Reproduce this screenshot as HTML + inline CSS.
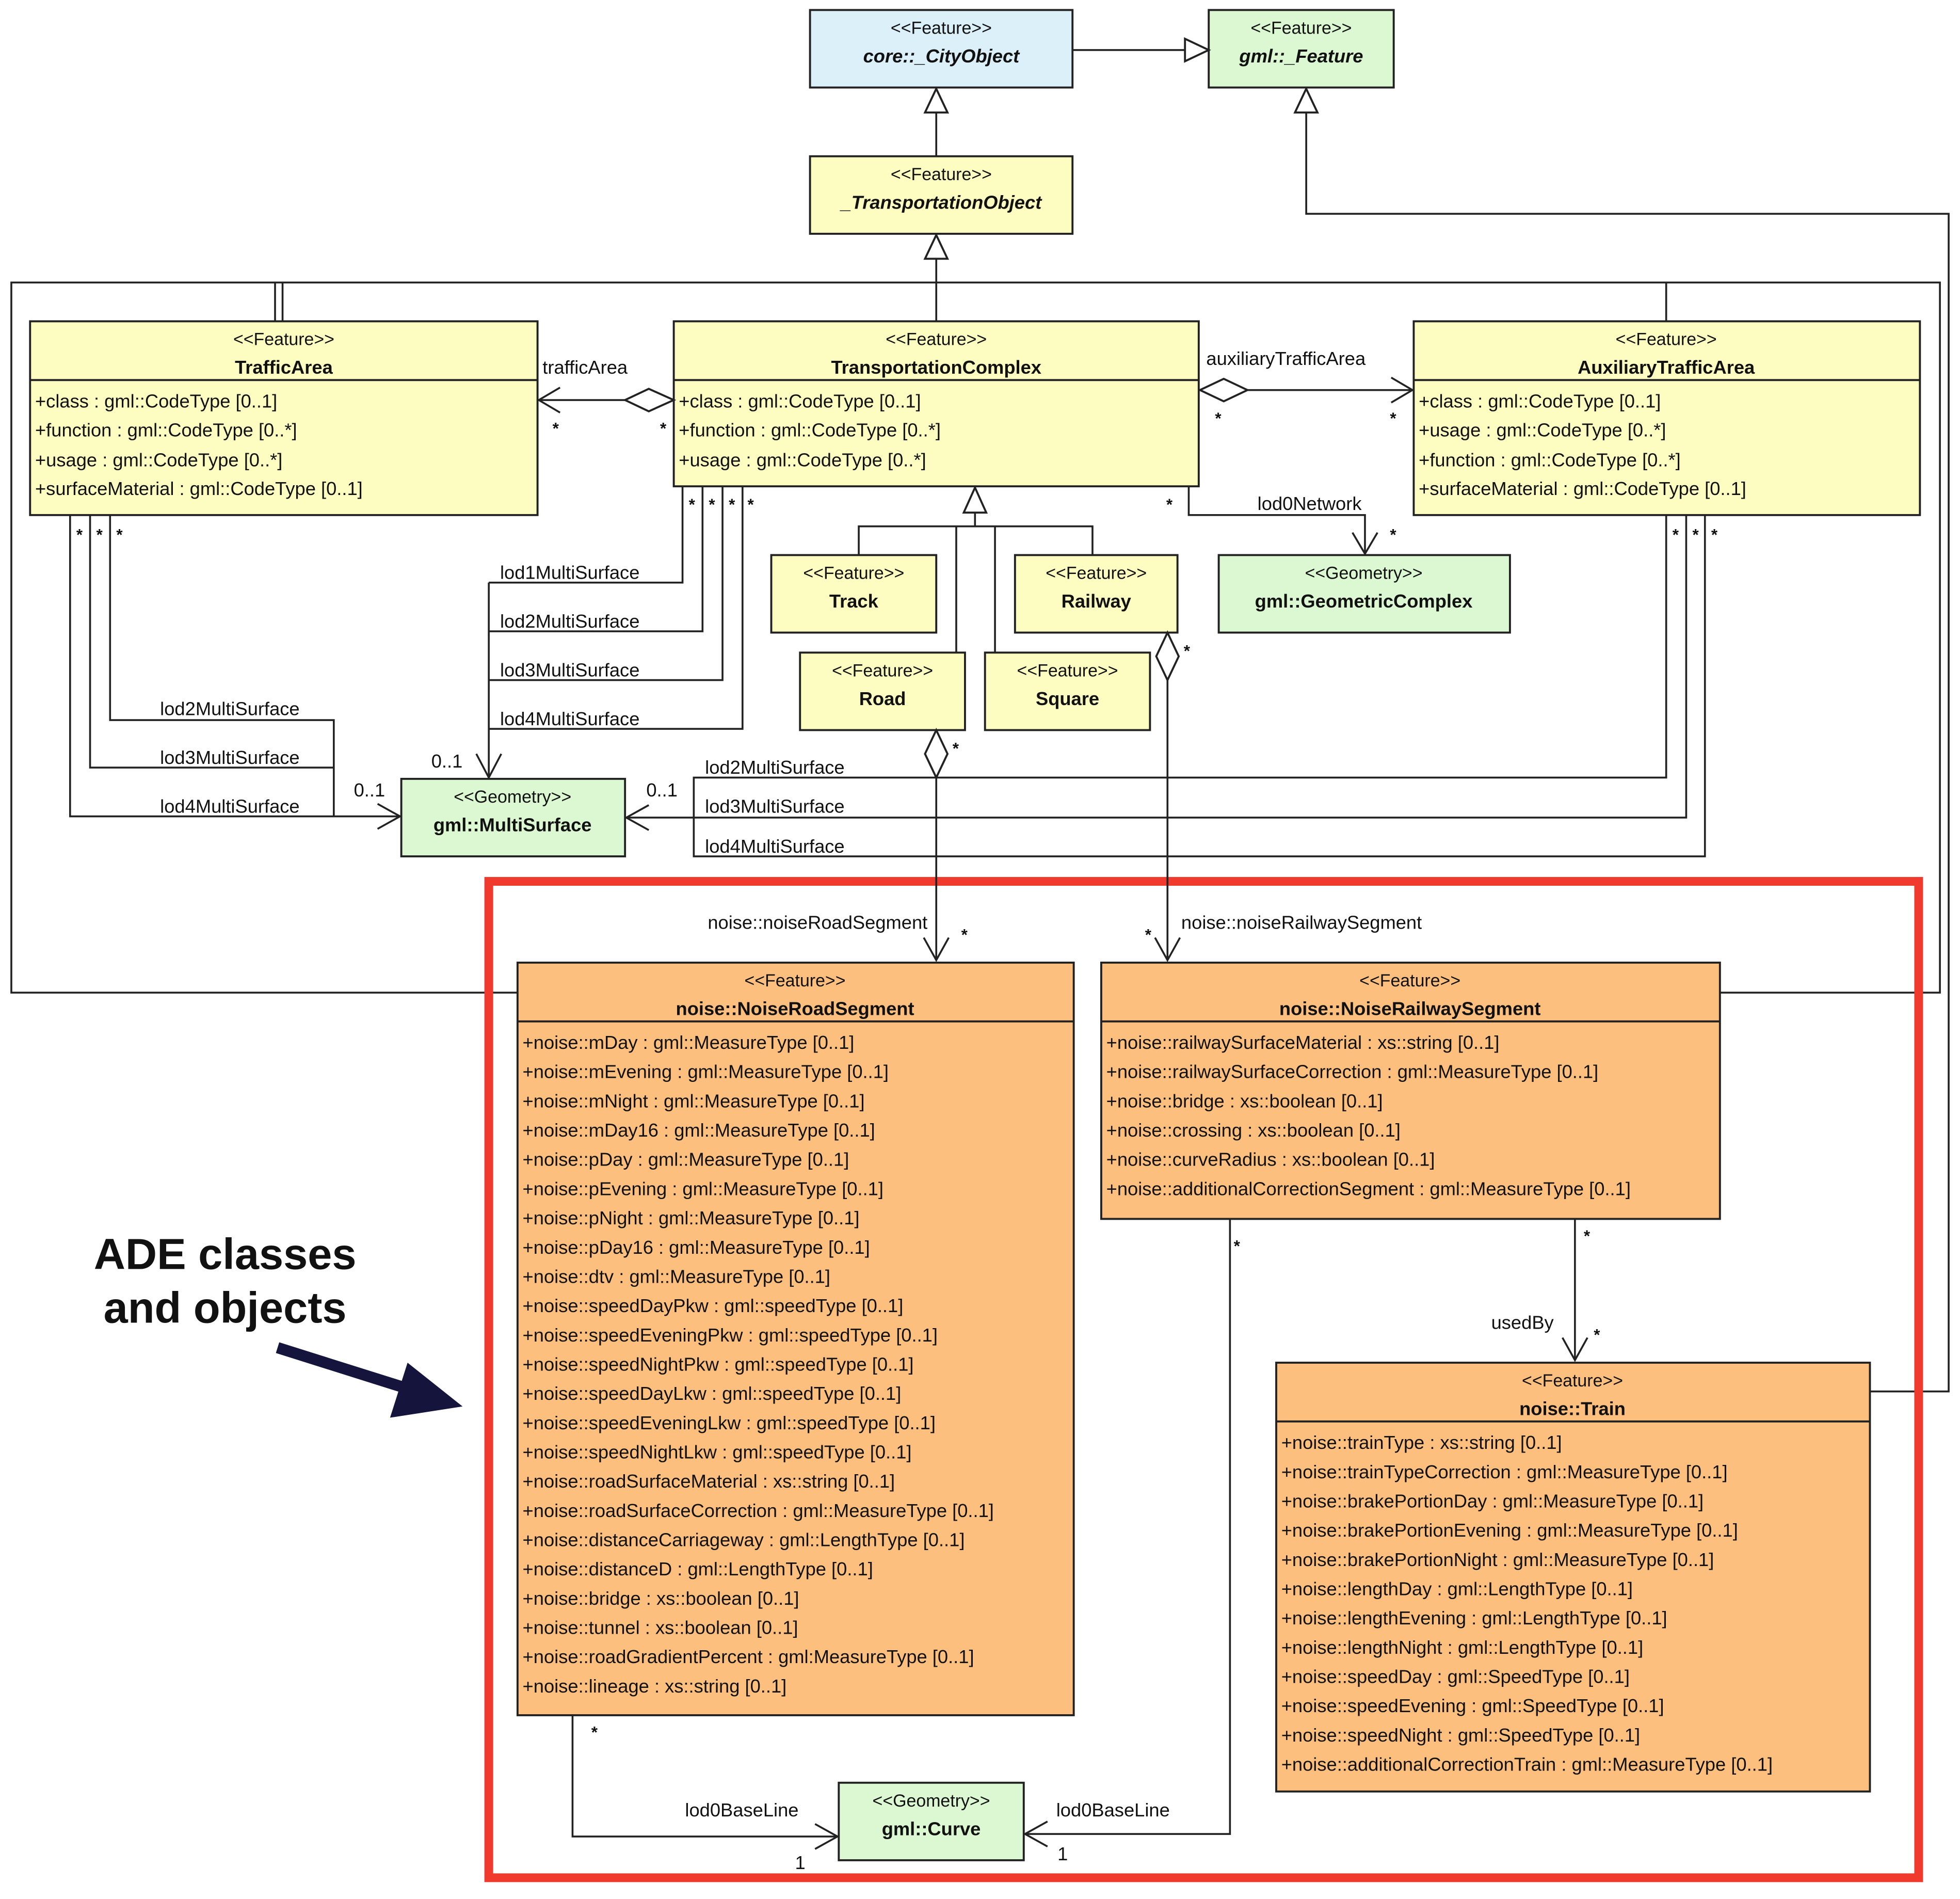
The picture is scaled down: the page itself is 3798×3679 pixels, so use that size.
<!DOCTYPE html>
<html><head><meta charset="utf-8">
<style>
html,body{margin:0;padding:0;background:#fff;}
svg{display:block;}
text{font-family:"Liberation Sans",sans-serif;fill:#111;}
.s{font-size:14px;}
.a{font-size:15px;}
.b{font-size:15px;font-weight:bold;}
.bi{font-size:15px;font-weight:bold;font-style:italic;}
.l{font-size:15px;}
.m{font-size:13px;font-weight:bold;}
.bx{stroke:#222;stroke-width:1.6;}
.ln{stroke:#222;stroke-width:1.5;fill:none;}
.tri{stroke:#222;stroke-width:1.6;fill:#fff;}
</style></head><body>
<svg width="3798" height="3679" viewBox="0 0 1568 1519" xmlns="http://www.w3.org/2000/svg">
<rect x="0" y="0" width="1568" height="1519" fill="#fff"/>

<!-- outer frame lines -->
<polyline class="ln" points="414,794 9,794 9,226 1552,226 1552,794 1376,794"/>
<polyline class="ln" points="1045,90 1045,171 1559,171 1559,1113 1496,1113"/>
<line class="ln" x1="220" y1="226" x2="220" y2="257"/>
<line class="ln" x1="226" y1="226" x2="226" y2="257"/>
<line class="ln" x1="1333" y1="226" x2="1333" y2="257"/>
<line class="ln" x1="749" y1="207" x2="749" y2="257"/>
<line class="ln" x1="749" y1="90" x2="749" y2="125"/>
<line class="ln" x1="858" y1="40" x2="948" y2="40"/>

<!-- red box -->
<rect x="391" y="705" width="1144" height="797" fill="none" stroke="#f03a2e" stroke-width="7"/>

<!-- boxes -->
<rect class="bx" x="648" y="8" width="210" height="62" fill="#dcf0fa"/>
<text class="s" x="753" y="27" text-anchor="middle">&lt;&lt;Feature&gt;&gt;</text>
<text class="bi" x="753" y="50" text-anchor="middle">core::_CityObject</text>

<rect class="bx" x="967" y="8" width="148" height="62" fill="#dcf8d2"/>
<text class="s" x="1041" y="27" text-anchor="middle">&lt;&lt;Feature&gt;&gt;</text>
<text class="bi" x="1041" y="50" text-anchor="middle">gml::_Feature</text>

<rect class="bx" x="648" y="125" width="210" height="62" fill="#fdfdc2"/>
<text class="s" x="753" y="144" text-anchor="middle">&lt;&lt;Feature&gt;&gt;</text>
<text class="bi" x="753" y="167" text-anchor="middle">_TransportationObject</text>

<!-- TrafficArea -->
<rect class="bx" x="24" y="257" width="406" height="155" fill="#fdfdc2"/>
<line class="bx" x1="24" y1="304" x2="430" y2="304"/>
<text class="s" x="227" y="276" text-anchor="middle">&lt;&lt;Feature&gt;&gt;</text>
<text class="b" x="227" y="299" text-anchor="middle">TrafficArea</text>
<text class="a" x="28" y="326">+class : gml::CodeType [0..1]</text>
<text class="a" x="28" y="349">+function : gml::CodeType [0..*]</text>
<text class="a" x="28" y="373">+usage : gml::CodeType [0..*]</text>
<text class="a" x="28" y="396">+surfaceMaterial : gml::CodeType [0..1]</text>

<!-- TransportationComplex -->
<rect class="bx" x="539" y="257" width="420" height="132" fill="#fdfdc2"/>
<line class="bx" x1="539" y1="304" x2="959" y2="304"/>
<text class="s" x="749" y="276" text-anchor="middle">&lt;&lt;Feature&gt;&gt;</text>
<text class="b" x="749" y="299" text-anchor="middle">TransportationComplex</text>
<text class="a" x="543" y="326">+class : gml::CodeType [0..1]</text>
<text class="a" x="543" y="349">+function : gml::CodeType [0..*]</text>
<text class="a" x="543" y="373">+usage : gml::CodeType [0..*]</text>

<!-- AuxiliaryTrafficArea -->
<rect class="bx" x="1131" y="257" width="405" height="155" fill="#fdfdc2"/>
<line class="bx" x1="1131" y1="304" x2="1536" y2="304"/>
<text class="s" x="1333" y="276" text-anchor="middle">&lt;&lt;Feature&gt;&gt;</text>
<text class="b" x="1333" y="299" text-anchor="middle">AuxiliaryTrafficArea</text>
<text class="a" x="1135" y="326">+class : gml::CodeType [0..1]</text>
<text class="a" x="1135" y="349">+usage : gml::CodeType [0..*]</text>
<text class="a" x="1135" y="373">+function : gml::CodeType [0..*]</text>
<text class="a" x="1135" y="396">+surfaceMaterial : gml::CodeType [0..1]</text>

<!-- Track, Railway, Road, Square -->
<rect class="bx" x="617" y="444" width="132" height="62" fill="#fdfdc2"/>
<text class="s" x="683" y="463" text-anchor="middle">&lt;&lt;Feature&gt;&gt;</text>
<text class="b" x="683" y="486" text-anchor="middle">Track</text>
<rect class="bx" x="812" y="444" width="130" height="62" fill="#fdfdc2"/>
<text class="s" x="877" y="463" text-anchor="middle">&lt;&lt;Feature&gt;&gt;</text>
<text class="b" x="877" y="486" text-anchor="middle">Railway</text>
<rect class="bx" x="640" y="522" width="132" height="62" fill="#fdfdc2"/>
<text class="s" x="706" y="541" text-anchor="middle">&lt;&lt;Feature&gt;&gt;</text>
<text class="b" x="706" y="564" text-anchor="middle">Road</text>
<rect class="bx" x="788" y="522" width="132" height="62" fill="#fdfdc2"/>
<text class="s" x="854" y="541" text-anchor="middle">&lt;&lt;Feature&gt;&gt;</text>
<text class="b" x="854" y="564" text-anchor="middle">Square</text>

<!-- GeometricComplex -->
<rect class="bx" x="975" y="444" width="233" height="62" fill="#dcf8d2"/>
<text class="s" x="1091" y="463" text-anchor="middle">&lt;&lt;Geometry&gt;&gt;</text>
<text class="b" x="1091" y="486" text-anchor="middle">gml::GeometricComplex</text>

<!-- MultiSurface -->
<rect class="bx" x="321" y="623" width="179" height="62" fill="#dcf8d2"/>
<text class="s" x="410" y="642" text-anchor="middle">&lt;&lt;Geometry&gt;&gt;</text>
<text class="b" x="410" y="665" text-anchor="middle">gml::MultiSurface</text>

<!-- NoiseRoadSegment -->
<rect class="bx" x="414" y="770" width="445" height="602" fill="#fdbf7e"/>
<line class="bx" x1="414" y1="817" x2="859" y2="817"/>
<text class="s" x="636" y="789" text-anchor="middle">&lt;&lt;Feature&gt;&gt;</text>
<text class="b" x="636" y="812" text-anchor="middle">noise::NoiseRoadSegment</text>
<g class="a">
<text class="a" x="418" y="839">+noise::mDay : gml::MeasureType [0..1]</text>
<text class="a" x="418" y="862.4">+noise::mEvening : gml::MeasureType [0..1]</text>
<text class="a" x="418" y="885.8">+noise::mNight : gml::MeasureType [0..1]</text>
<text class="a" x="418" y="909.2">+noise::mDay16 : gml::MeasureType [0..1]</text>
<text class="a" x="418" y="932.6">+noise::pDay : gml::MeasureType [0..1]</text>
<text class="a" x="418" y="956">+noise::pEvening : gml::MeasureType [0..1]</text>
<text class="a" x="418" y="979.4">+noise::pNight : gml::MeasureType [0..1]</text>
<text class="a" x="418" y="1002.8">+noise::pDay16 : gml::MeasureType [0..1]</text>
<text class="a" x="418" y="1026.2">+noise::dtv : gml::MeasureType [0..1]</text>
<text class="a" x="418" y="1049.6">+noise::speedDayPkw : gml::speedType [0..1]</text>
<text class="a" x="418" y="1073">+noise::speedEveningPkw : gml::speedType [0..1]</text>
<text class="a" x="418" y="1096.4">+noise::speedNightPkw : gml::speedType [0..1]</text>
<text class="a" x="418" y="1119.8">+noise::speedDayLkw : gml::speedType [0..1]</text>
<text class="a" x="418" y="1143.2">+noise::speedEveningLkw : gml::speedType [0..1]</text>
<text class="a" x="418" y="1166.6">+noise::speedNightLkw : gml::speedType [0..1]</text>
<text class="a" x="418" y="1190">+noise::roadSurfaceMaterial : xs::string [0..1]</text>
<text class="a" x="418" y="1213.4">+noise::roadSurfaceCorrection : gml::MeasureType [0..1]</text>
<text class="a" x="418" y="1236.8">+noise::distanceCarriageway : gml::LengthType [0..1]</text>
<text class="a" x="418" y="1260.2">+noise::distanceD : gml::LengthType [0..1]</text>
<text class="a" x="418" y="1283.6">+noise::bridge : xs::boolean [0..1]</text>
<text class="a" x="418" y="1307">+noise::tunnel : xs::boolean [0..1]</text>
<text class="a" x="418" y="1330.4">+noise::roadGradientPercent : gml:MeasureType [0..1]</text>
<text class="a" x="418" y="1353.8">+noise::lineage : xs::string [0..1]</text>
</g>

<!-- NoiseRailwaySegment -->
<rect class="bx" x="881" y="770" width="495" height="205" fill="#fdbf7e"/>
<line class="bx" x1="881" y1="817" x2="1376" y2="817"/>
<text class="s" x="1128" y="789" text-anchor="middle">&lt;&lt;Feature&gt;&gt;</text>
<text class="b" x="1128" y="812" text-anchor="middle">noise::NoiseRailwaySegment</text>
<text class="a" x="885" y="839">+noise::railwaySurfaceMaterial : xs::string [0..1]</text>
<text class="a" x="885" y="862.4">+noise::railwaySurfaceCorrection : gml::MeasureType [0..1]</text>
<text class="a" x="885" y="885.8">+noise::bridge : xs::boolean [0..1]</text>
<text class="a" x="885" y="909.2">+noise::crossing : xs::boolean [0..1]</text>
<text class="a" x="885" y="932.6">+noise::curveRadius : xs::boolean [0..1]</text>
<text class="a" x="885" y="956">+noise::additionalCorrectionSegment : gml::MeasureType [0..1]</text>

<!-- Train -->
<rect class="bx" x="1021" y="1090" width="475" height="343" fill="#fdbf7e"/>
<line class="bx" x1="1021" y1="1137" x2="1496" y2="1137"/>
<text class="s" x="1258" y="1109" text-anchor="middle">&lt;&lt;Feature&gt;&gt;</text>
<text class="b" x="1258" y="1132" text-anchor="middle">noise::Train</text>
<text class="a" x="1025" y="1159">+noise::trainType : xs::string [0..1]</text>
<text class="a" x="1025" y="1182.4">+noise::trainTypeCorrection : gml::MeasureType [0..1]</text>
<text class="a" x="1025" y="1205.8">+noise::brakePortionDay : gml::MeasureType [0..1]</text>
<text class="a" x="1025" y="1229.2">+noise::brakePortionEvening : gml::MeasureType [0..1]</text>
<text class="a" x="1025" y="1252.6">+noise::brakePortionNight : gml::MeasureType [0..1]</text>
<text class="a" x="1025" y="1276">+noise::lengthDay : gml::LengthType [0..1]</text>
<text class="a" x="1025" y="1299.4">+noise::lengthEvening : gml::LengthType [0..1]</text>
<text class="a" x="1025" y="1322.8">+noise::lengthNight : gml::LengthType [0..1]</text>
<text class="a" x="1025" y="1346.2">+noise::speedDay : gml::SpeedType [0..1]</text>
<text class="a" x="1025" y="1369.6">+noise::speedEvening : gml::SpeedType [0..1]</text>
<text class="a" x="1025" y="1393">+noise::speedNight : gml::SpeedType [0..1]</text>
<text class="a" x="1025" y="1416.4">+noise::additionalCorrectionTrain : gml::MeasureType [0..1]</text>

<!-- Curve -->
<rect class="bx" x="671" y="1426" width="148" height="62" fill="#dcf8d2"/>
<text class="s" x="745" y="1445" text-anchor="middle">&lt;&lt;Geometry&gt;&gt;</text>
<text class="b" x="745" y="1468" text-anchor="middle">gml::Curve</text>

<!-- generalization triangles -->
<polygon class="tri" points="948,31 967,40 948,49"/>
<polygon class="tri" points="740,90 749,71 758,90"/>
<polygon class="tri" points="1036,90 1045,71 1054,90"/>
<polygon class="tri" points="740,207 749,188 758,207"/>
<polygon class="tri" points="771,410 780,390 789,410"/>
<polyline class="ln" points="780,410 780,421"/>
<polyline class="ln" points="687,444 687,421 874,421 874,444"/>
<line class="ln" x1="765" y1="421" x2="765" y2="522"/>
<line class="ln" x1="796" y1="421" x2="796" y2="522"/>

<!-- trafficArea -->
<line class="ln" x1="430" y1="320" x2="500" y2="320"/>
<polygon class="tri" points="500,320 519,311 539,320 519,329"/>
<polyline class="ln" points="448,310 431,320 448,330"/>
<text class="l" x="434" y="299">trafficArea</text>
<text class="m" x="442" y="347">*</text>
<text class="m" x="528" y="347">*</text>

<!-- auxiliaryTrafficArea -->
<line class="ln" x1="998" y1="312" x2="1130" y2="312"/>
<polygon class="tri" points="960,312 979,303 998,312 979,321"/>
<polyline class="ln" points="1113,302 1130,312 1113,322"/>
<text class="l" x="965" y="292">auxiliaryTrafficArea</text>
<text class="m" x="972" y="339">*</text>
<text class="m" x="1112" y="339">*</text>

<!-- lod0Network -->
<polyline class="ln" points="951,389 951,412 1092,412 1092,443"/>
<polyline class="ln" points="1082,426 1092,443 1102,426"/>
<text class="l" x="1006" y="408">lod0Network</text>
<text class="m" x="933" y="408">*</text>
<text class="m" x="1112" y="432">*</text>

<!-- TC lod multisurfaces -->
<polyline class="ln" points="546,389 546,466 391,466"/>
<polyline class="ln" points="562,389 562,505 391,505"/>
<polyline class="ln" points="578,389 578,544 391,544"/>
<polyline class="ln" points="594,389 594,583 391,583"/>
<line class="ln" x1="391" y1="466" x2="391" y2="622"/>
<polyline class="ln" points="381,603 391,622 401,603"/>
<text class="l" x="400" y="463">lod1MultiSurface</text>
<text class="l" x="400" y="502">lod2MultiSurface</text>
<text class="l" x="400" y="541">lod3MultiSurface</text>
<text class="l" x="400" y="580">lod4MultiSurface</text>
<text class="m" x="551" y="408">*</text>
<text class="m" x="567" y="408">*</text>
<text class="m" x="583" y="408">*</text>
<text class="m" x="598" y="408">*</text>
<text class="l" x="345" y="614">0..1</text>

<!-- TrafficArea lod -->
<polyline class="ln" points="88,412 88,576 267,576 267,653"/>
<polyline class="ln" points="72,412 72,614 267,614"/>
<polyline class="ln" points="56,412 56,653 320,653"/>
<polyline class="ln" points="302,643 320,653 302,663"/>
<text class="l" x="128" y="572">lod2MultiSurface</text>
<text class="l" x="128" y="611">lod3MultiSurface</text>
<text class="l" x="128" y="650">lod4MultiSurface</text>
<text class="l" x="283" y="637">0..1</text>
<text class="m" x="61" y="432">*</text>
<text class="m" x="77" y="432">*</text>
<text class="m" x="93" y="432">*</text>

<!-- Aux lod -->
<polyline class="ln" points="1333,412 1333,622 555,622 555,685 1364,685 1364,412"/>
<polyline class="ln" points="1349,412 1349,654 501,654"/>
<polyline class="ln" points="519,644 501,654 519,664"/>
<text class="l" x="564" y="619">lod2MultiSurface</text>
<text class="l" x="564" y="650">lod3MultiSurface</text>
<text class="l" x="564" y="682">lod4MultiSurface</text>
<text class="l" x="517" y="637">0..1</text>
<text class="m" x="1338" y="432">*</text>
<text class="m" x="1354" y="432">*</text>
<text class="m" x="1369" y="432">*</text>

<!-- noiseRoadSegment -->
<line class="ln" x1="749" y1="622" x2="749" y2="768"/>
<polygon class="tri" points="749,584 740,603 749,622 758,603"/>
<polyline class="ln" points="739,750 749,768 759,750"/>
<text class="l" x="742" y="743" text-anchor="end">noise::noiseRoadSegment</text>
<text class="m" x="762" y="603">*</text>
<text class="m" x="769" y="752">*</text>

<!-- noiseRailwaySegment -->
<line class="ln" x1="934" y1="544" x2="934" y2="768"/>
<polygon class="tri" points="934,506 925,525 934,544 943,525"/>
<polyline class="ln" points="924,750 934,768 944,750"/>
<text class="l" x="945" y="743">noise::noiseRailwaySegment</text>
<text class="m" x="947" y="525">*</text>
<text class="m" x="916" y="752">*</text>

<!-- usedBy -->
<line class="ln" x1="1260" y1="975" x2="1260" y2="1088"/>
<polyline class="ln" points="1250,1070 1260,1088 1270,1070"/>
<text class="m" x="1267" y="993">*</text>
<text class="l" x="1193" y="1063">usedBy</text>
<text class="m" x="1275" y="1072">*</text>

<!-- lod0BaseLine -->
<polyline class="ln" points="458,1372 458,1469 670,1469"/>
<polyline class="ln" points="652,1459 670,1469 652,1479"/>
<text class="l" x="548" y="1453">lod0BaseLine</text>
<text class="m" x="473" y="1390">*</text>
<text class="l" x="636" y="1495">1</text>
<polyline class="ln" points="984,975 984,1467 820,1467"/>
<polyline class="ln" points="838,1457 820,1467 838,1477"/>
<text class="l" x="845" y="1453">lod0BaseLine</text>
<text class="m" x="987" y="1001">*</text>
<text class="l" x="846" y="1488">1</text>

<!-- ADE label -->
<text x="180" y="1015" text-anchor="middle" style="font-size:35px;font-weight:bold;">ADE classes</text>
<text x="180" y="1058" text-anchor="middle" style="font-size:35px;font-weight:bold;">and objects</text>
<line x1="222" y1="1078" x2="330" y2="1112" stroke="#14143c" stroke-width="9"/>
<polygon points="370,1125 312,1134 326,1090" fill="#14143c"/>
</svg>
</body></html>
